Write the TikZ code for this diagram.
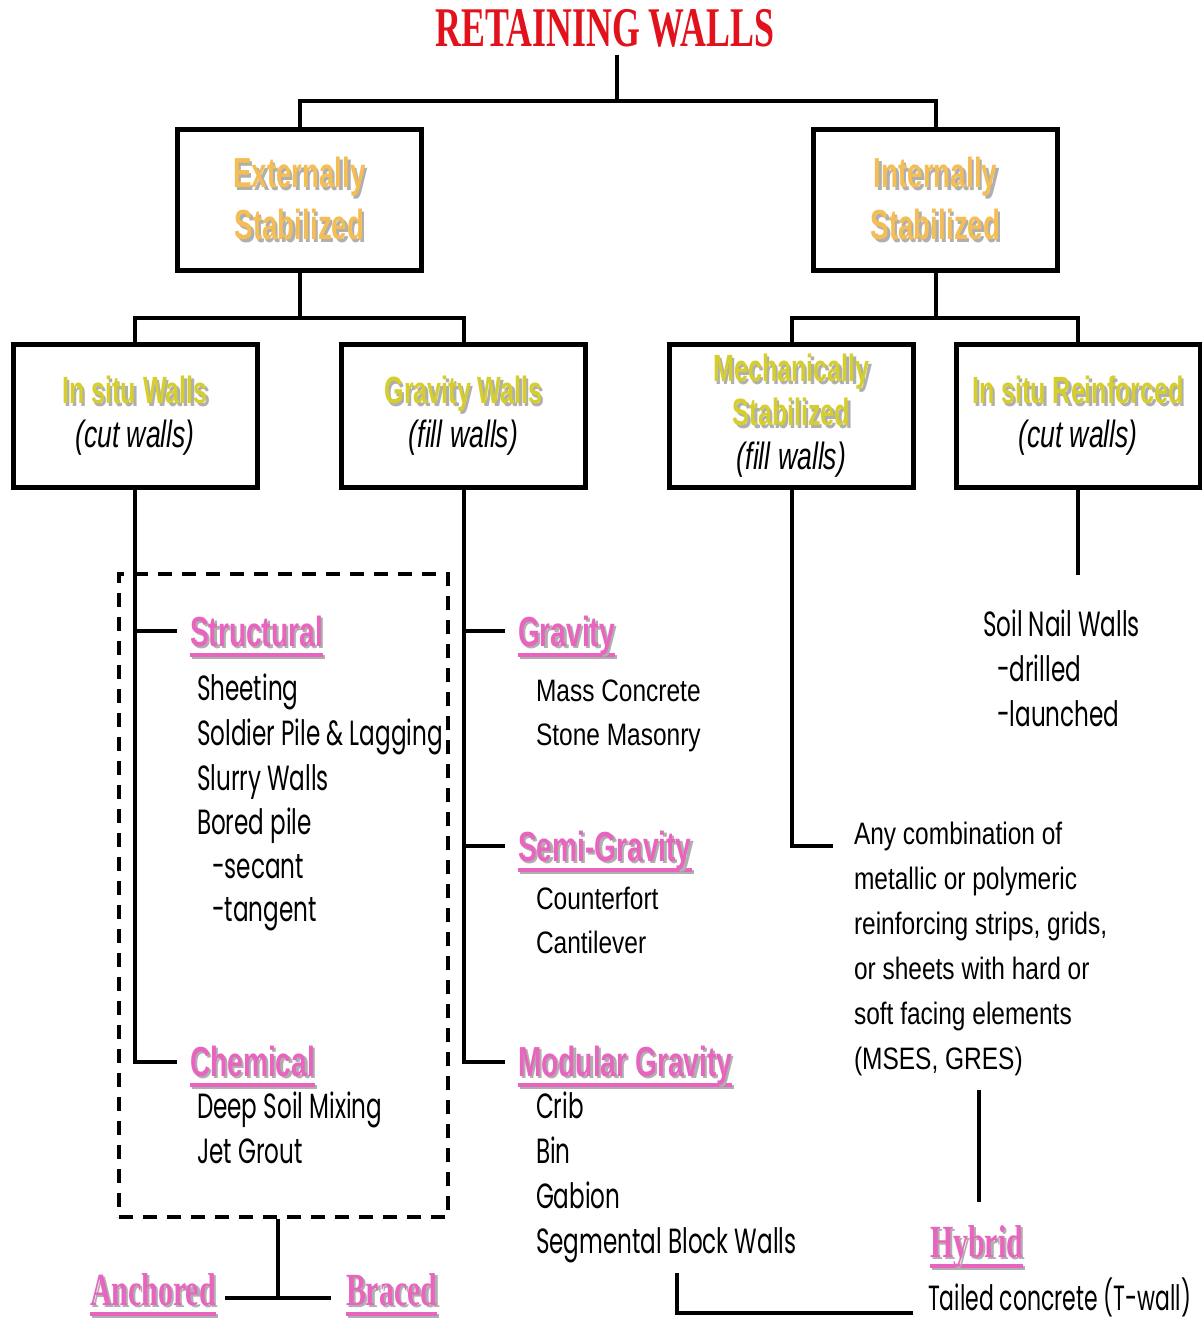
\documentclass[tikz,border=0pt]{standalone}
\usepackage{fontspec}
\setmainfont{Liberation Sans}
\newfontfamily\titlef{Liberation Serif}[FakeStretch=0.64]
\newfontfamily\timesf{Liberation Serif}[FakeStretch=0.65]
\newfontfamily\boxf{Liberation Sans}[FakeStretch=0.66]
\newfontfamily\boxitf{Liberation Sans}[FakeStretch=0.70]
\newfontfamily\headf{Liberation Sans}[FakeStretch=0.67]
\newfontfamily\narrowf{Liberation Sans}[FakeStretch=0.79]
\newfontfamily\comicf{Poppins}[FakeStretch=0.66]
\definecolor{titlered}{RGB}{226,18,28}
\definecolor{extc}{RGB}{244,190,84}
\definecolor{yelc}{RGB}{214,206,42}
\definecolor{pinkc}{RGB}{232,100,190}
\definecolor{shadc}{RGB}{175,175,175}
\newcommand\shad[2]{\leavevmode\rlap{\hspace{1.2pt}\raisebox{-1.2pt}{\color{shadc}#2}}{\color{#1}#2}}
\newcommand\pinkhead[1]{\leavevmode\setbox0\hbox{#1}%
  \rlap{\hspace{1pt}\color{shadc}\rule[-6.5pt]{\wd0}{1.8pt}}%
  \rlap{\color{pinkc}\rule[-5.5pt]{\wd0}{1.8pt}}%
  \shad{pinkc}{#1}}
\tikzset{
  box/.style={draw, line width=2.5pt, minimum width=122pt, inner sep=0pt, align=center},
  topbox/.style={box, minimum height=70.5pt, font=\boxf\bfseries\fontsize{21}{26}\selectfont},
  subbox/.style={box, minimum height=71.5pt, font=\boxf\bfseries\fontsize{19}{22}\selectfont},
  conn/.style={line width=2pt},
  lbl/.style={anchor=base west, inner sep=0pt, outer sep=0pt},
  comic/.style={lbl, font=\comicf\fontsize{17.5}{20}\selectfont},
  arialn/.style={lbl, font=\narrowf\fontsize{15.5}{18}\selectfont},
  head/.style={lbl, font=\headf\bfseries\fontsize{21}{24}\selectfont},
  thead/.style={lbl, font=\timesf\bfseries\fontsize{23}{26}\selectfont},
  dashbox/.style={draw, line width=2pt, dash pattern=on 7pt off 5pt, minimum width=164.5pt, minimum height=321.5pt, inner sep=0pt}
}
\newcommand\itl[1]{{\boxitf\itshape\mdseries #1}}
\begin{document}
\begin{tikzpicture}[x=0.5pt,y=-0.5pt]
\useasboundingbox (0,0) rectangle (1201,1321);
\fill[white] (0,0) rectangle (1201,1321);
% title
\node[anchor=base, inner sep=0pt, text=titlered, font=\titlef\bfseries\fontsize{28}{30}\selectfont] (title) at (605,47) {RETAINING WALLS};
% boxes
\node[topbox] (ext) at (299.5,200) {\shad{extc}{Externally}\\\shad{extc}{Stabilized}};
\node[topbox] (int) at (935.5,200) {\shad{extc}{Internally}\\\shad{extc}{Stabilized}};
\node[subbox] (insitu) at (135,416) {\shad{yelc}{In situ Walls}\\\itl{(cut walls)}};
\node[subbox] (gravity) at (463.5,416) {\shad{yelc}{Gravity Walls}\\\itl{(fill walls)}};
\node[subbox] (mech) at (791.5,416) {\shad{yelc}{Mechanically}\\\shad{yelc}{Stabilized}\\\itl{(fill walls)}};
\node[subbox] (reinf) at (1078,416) {\shad{yelc}{In situ Reinforced}\\\itl{(cut walls)}};
% top connectors
\coordinate (t0) at (617,55);
\coordinate (j0) at (617,101);
\draw[conn] (t0) -- (j0);
\draw[conn] (ext.north) |- (j0) -| (int.north);
\coordinate (j1) at (299.5,318);
\coordinate (j2) at (935.5,318);
\draw[conn] (ext.south) -- (j1);
\draw[conn] (int.south) -- (j2);
\draw[conn] (insitu.north) |- (j1) -| (gravity.north);
\draw[conn] (mech.north) |- (j2) -| (reinf.north);
% dashed group
\node[dashbox] (dbox) at (283.5,895.5) {};
% left branch
\coordinate (sA) at (177,631);
\coordinate (sB) at (177,1062);
\draw[conn] (insitu.south) |- (sB);
\draw[conn] (sA -| insitu.south) -- (sA);
% gravity branch
\coordinate (gA) at (505,631);
\coordinate (gB) at (505,846);
\coordinate (gC) at (505,1062);
\draw[conn] (gravity.south) |- (gC);
\draw[conn] (gA -| gravity.south) -- (gA);
\draw[conn] (gB -| gravity.south) -- (gB);
% mech branch
\coordinate (mA) at (833,846);
\draw[conn] (mech.south) |- (mA);
% reinforced branch
\coordinate (rA) at (1078,575);
\draw[conn] (reinf.south) -- (rA);
% hybrid line
\coordinate (h1) at (979,1090);
\coordinate (h2) at (979,1202);
\draw[conn] (h1) -- (h2);
% bottom L
\coordinate (b1) at (677,1273);
\coordinate (b2) at (913,1313);
\draw[conn] (b1) |- (b2);
% anchored / braced
\coordinate (d1) at (278,1298);
\coordinate (ab1) at (225,1298);
\coordinate (ab2) at (331,1298);
\draw[conn] (dbox.south -| d1) -- (d1);
\draw[conn] (ab1) -- (ab2);
% structural
\node[head] (structural) at (190,646) {\pinkhead{Structural}};
\node[comic] (s1) at (197,700) {Sheeting};
\node[comic] (s2) at (197,745) {Soldier Pile \& Lagging};
\node[comic] (s3) at (197,790) {Slurry Walls};
\node[comic] (s4) at (197,834) {Bored pile};
\node[comic] (s5) at (212,878) {-secant};
\node[comic] (s6) at (212,921) {-tangent};
\node[head] (chemical) at (190,1076) {\pinkhead{Chemical}};
\node[comic] (c1) at (197,1118) {Deep Soil Mixing};
\node[comic] (c2) at (197,1163) {Jet Grout};
% gravity lists
\node[head] (grav) at (518,646) {\pinkhead{Gravity}};
\node[arialn] (g1) at (536,701) {Mass Concrete};
\node[arialn] (g2) at (536,745) {Stone Masonry};
\node[head] (semi) at (518,861) {\pinkhead{Semi-Gravity}};
\node[arialn] (g3) at (536,909) {Counterfort};
\node[arialn] (g4) at (536,953) {Cantilever};
\node[head] (modular) at (518,1076) {\pinkhead{Modular Gravity}};
\node[comic] (m1) at (536,1118) {Crib};
\node[comic] (m2) at (536,1163) {Bin};
\node[comic] (m3) at (536,1208) {Gabion};
\node[comic] (m4) at (536,1253) {Segmental Block Walls};
% soil nail
\node[comic] (n1) at (983,636) {Soil Nail Walls};
\node[comic] (n2) at (997,681) {-drilled};
\node[comic] (n3) at (997,726) {-launched};
% MSE text
\node[arialn] (e1) at (854,844) {Any combination of};
\node[arialn] (e2) at (854,889) {metallic or polymeric};
\node[arialn] (e3) at (854,934) {reinforcing strips, grids,};
\node[arialn] (e4) at (854,979) {or sheets with hard or};
\node[arialn] (e5) at (854,1024) {soft facing elements};
\node[arialn] (e6) at (854,1069) {(MSES, GRES)};
% hybrid
\node[thead] (hybrid) at (930,1257) {\pinkhead{Hybrid}};
\node[comic] (tail) at (928,1310) {\scalebox{0.95}[1]{Tailed concrete (T-wall)}};
% anchored braced
\node[thead] (anchored) at (90,1305) {\pinkhead{Anchored}};
\node[thead] (braced) at (346,1305) {\pinkhead{Braced}};
\end{tikzpicture}
\end{document}
